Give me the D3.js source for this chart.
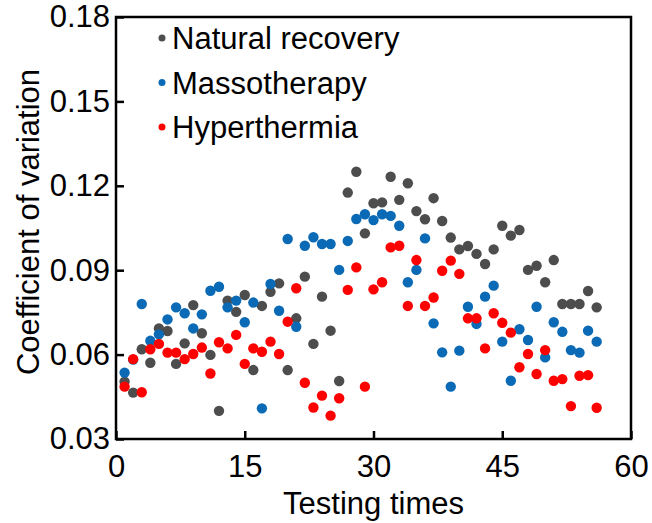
<!DOCTYPE html>
<html>
<head>
<meta charset="utf-8">
<script src="https://cdn.jsdelivr.net/npm/d3@7"></script>
<style>
  html, body { margin: 0; padding: 0; background: #fff; }
  svg { display: block; font-family: Arial, "Liberation Sans", sans-serif; }
</style>
</head>
<body>
<svg id="chart" width="652" height="523"></svg>
<script>
// Coefficient of variation per testing time, three treatment groups
const seriesNames = ["Natural recovery", "Massotherapy", "Hyperthermia"];
const seriesColors = ["#4d4d4d", "#0a6ab5", "#ff0000"];

const natural = [0.0504, 0.0465, 0.0619, 0.0571, 0.0693, 0.0684, 0.0567, 0.0640, 0.0776, 0.0676,
  0.0599, 0.0400, 0.0792, 0.0752, 0.0812, 0.0545, 0.0773, 0.0823, 0.0853, 0.0545,
  0.0729, 0.0877, 0.0638, 0.0806, 0.0685, 0.0506, 0.1176, 0.1250, 0.1031, 0.1138,
  0.1141, 0.1232, 0.1150, 0.1209, 0.1110, 0.1081, 0.1156, 0.1075, 0.1016, 0.0974,
  0.0986, 0.0958, 0.0922, 0.0974, 0.1058, 0.1023, 0.1043, 0.0901, 0.0916, 0.0857,
  0.0936, 0.0780, 0.0780, 0.0780, 0.0826, 0.0768];

const massotherapy = [0.0536, 0.0582, 0.0780, 0.0649, 0.0672, 0.0725, 0.0768, 0.0747, 0.0693, 0.0743,
  0.0827, 0.0841, 0.0768, 0.0792, 0.0715, 0.0785, 0.0409, 0.0851, 0.0756, 0.1011,
  0.0699, 0.0987, 0.1017, 0.0993, 0.0993, 0.0901, 0.1004, 0.1082, 0.1099, 0.1078,
  0.1099, 0.1093, 0.1058, 0.0857, 0.0901, 0.1013, 0.0711, 0.0608, 0.0486, 0.0614,
  0.0770, 0.0709, 0.0806, 0.0845, 0.0646, 0.0507, 0.0690, 0.0652, 0.0770, 0.0590,
  0.0715, 0.0681, 0.0616, 0.0607, 0.0685, 0.0646];

const hyperthermia = [0.0486, 0.0584, 0.0466, 0.0619, 0.0638, 0.0607, 0.0607, 0.0584, 0.0602, 0.0625,
  0.0533, 0.0644, 0.0622, 0.0670, 0.0567, 0.0622, 0.0610, 0.0646, 0.0602, 0.0717,
  0.0836, 0.0500, 0.0412, 0.0454, 0.0383, 0.0445, 0.0830, 0.0910, 0.0486, 0.0832,
  0.0857, 0.0981, 0.0987, 0.0773, 0.0936, 0.0773, 0.0803, 0.0898, 0.0934, 0.0887,
  0.0729, 0.0729, 0.0622, 0.0747, 0.0713, 0.0678, 0.0555, 0.0602, 0.0531, 0.0616,
  0.0507, 0.0513, 0.0417, 0.0525, 0.0527, 0.0411];

const xTicks = [0, 15, 30, 45, 60];
const yTicks = [0.03, 0.06, 0.09, 0.12, 0.15, 0.18];

const allSeries = [natural, massotherapy, hyperthermia];

const svg = d3.select("#chart");
const plot = { left: 116, right: 631, top: 17, bottom: 439 };

const x = d3.scaleLinear().domain([0, 60]).range([plot.left, plot.right]);
const y = d3.scaleLinear().domain([0.03, 0.18]).range([plot.bottom, plot.top]);

// Axes with inward ticks
const xAxis = d3.axisBottom(x).tickValues(xTicks).tickFormat(d3.format("d"))
  .tickSizeInner(-8).tickSizeOuter(0).tickPadding(16);
const yAxis = d3.axisLeft(y).tickValues(yTicks).tickFormat(d3.format(".2f"))
  .tickSizeInner(-8).tickSizeOuter(0).tickPadding(6);

const gx = svg.append("g").attr("transform", `translate(0,${plot.bottom})`).call(xAxis);
const gy = svg.append("g").attr("transform", `translate(${plot.left},0)`).call(yAxis);
[gx, gy].forEach(g => {
  g.select(".domain").remove();
  g.selectAll(".tick line").attr("stroke", "#000").attr("stroke-width", 2.5);
  g.selectAll(".tick text").attr("fill", "#000").style("font-size", "31px");
});

// Data points: one group per series
allSeries.forEach((vals, i) => {
  svg.append("g")
    .selectAll("circle")
    .data(vals)
    .join("circle")
    .attr("cx", (d, j) => x(j + 1))
    .attr("cy", d => y(d))
    .attr("r", 5.2)
    .attr("fill", seriesColors[i]);
});

// Frame
svg.append("rect")
  .attr("x", plot.left).attr("y", plot.top)
  .attr("width", plot.right - plot.left).attr("height", plot.bottom - plot.top)
  .attr("fill", "none").attr("stroke", "#000").attr("stroke-width", 2.5);

// Legend
const legend = svg.append("g");
seriesNames.forEach((name, i) => {
  const cy = 38 + i * 44.5;
  legend.append("circle").attr("cx", 162).attr("cy", cy).attr("r", 3.5).attr("fill", seriesColors[i]);
  legend.append("text").attr("x", 172).attr("y", cy + 11)
    .style("font-size", "31px").attr("fill", "#000").text(name);
});

// Axis titles
svg.append("text")
  .attr("x", (plot.left + plot.right) / 2).attr("y", 514)
  .attr("text-anchor", "middle").style("font-size", "31px").attr("fill", "#000")
  .text("Testing times");

svg.append("text")
  .attr("transform", `translate(39,${(plot.top + plot.bottom) / 2 - 6}) rotate(-90)`)
  .attr("text-anchor", "middle").style("font-size", "31px").attr("fill", "#000")
  .text("Coefficient of variation");
</script>
</body>
</html>
